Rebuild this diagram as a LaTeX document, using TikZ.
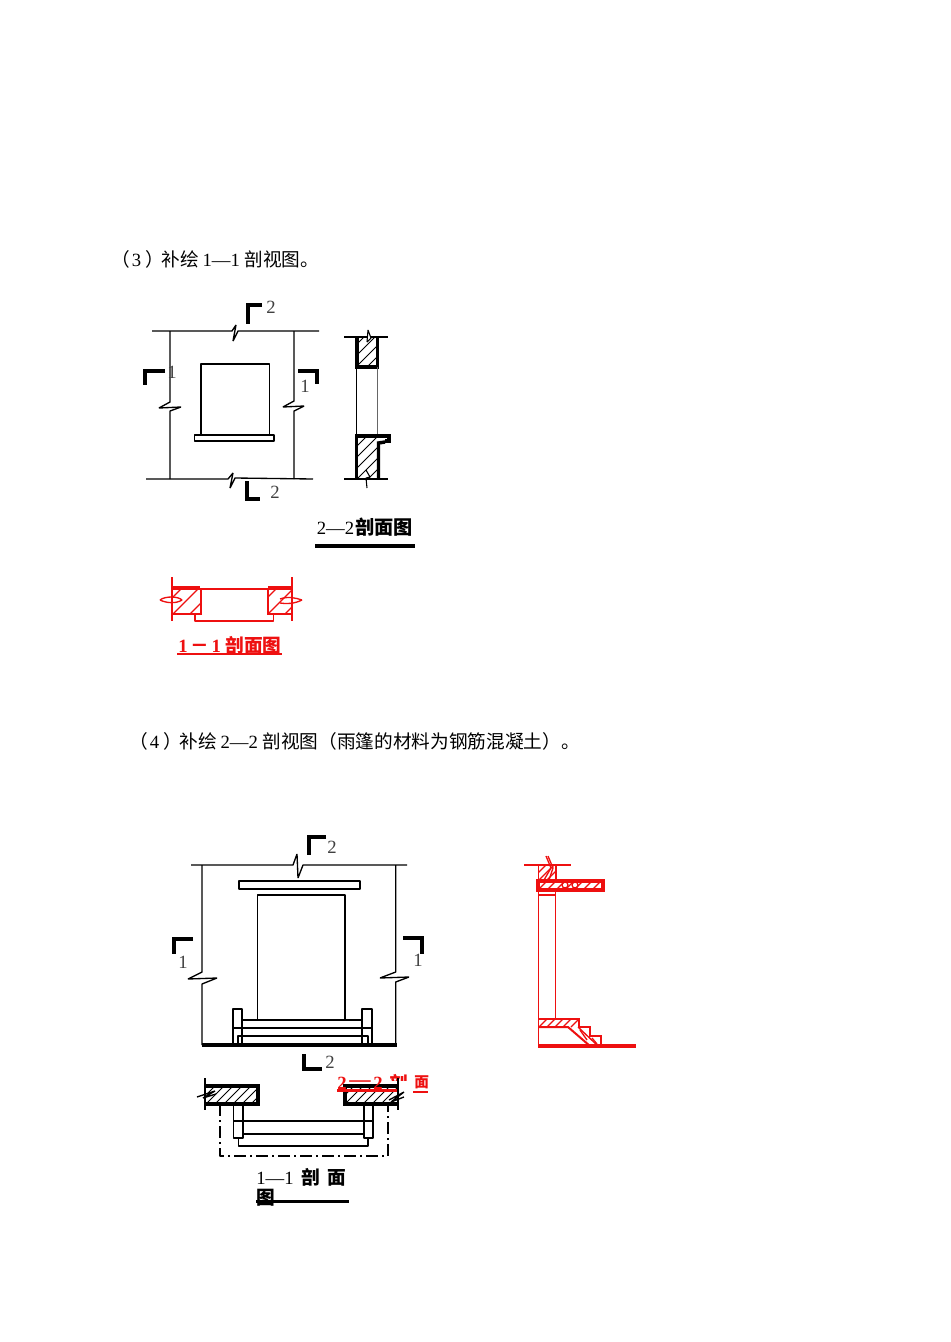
\documentclass[tikz,border=0pt]{standalone}
\usepackage{fontspec}
\setmainfont{Liberation Serif}
\newfontfamily\cjk{Noto Sans CJK SC}
\definecolor{redline}{RGB}{238,16,16}
\newcommand{\hatchbox}[7][0.7pt]{% width; x1 y1 x2 y2 colour spacing
  \begin{scope}
    \clip (#2,#3) rectangle (#4,#5);
    \foreach \k in {-20,...,20}
      \draw[#6,line width=#1] ({#2+\k*#7},#5) -- ++(80,-80);
  \end{scope}}
\tikzset{
  thin line/.style={line width=0.8pt,black,line join=bevel},
  mid line/.style={line width=1.0pt,black,line join=bevel},
  heavy line/.style={line width=2.6pt,black,line join=miter},
  section mark/.style={line width=2.8pt,black,line cap=butt,line join=miter},
  red thin/.style={line width=1.0pt,redline,line join=bevel},
  red wall/.style={line width=1.15pt,redline,line join=miter},
  red mid/.style={line width=1.5pt,redline,line join=miter},
  red thick/.style={line width=2.6pt,redline,line join=miter},
  body/.style={inner sep=0pt,font=\fontsize{14}{16}\selectfont,anchor=west},
  num/.style={inner sep=0pt,font=\fontsize{14}{16}\selectfont,text=black!75},
}
\begin{document}
\begin{tikzpicture}[x=0.75pt,y=-0.75pt]
\useasboundingbox (0,0) rectangle (950,1342);
\fill[white] (0,0) rectangle (950,1342);

% ---- texts
\node[body] (q3) at (111,259) {{\cjk （}\hspace{1.5pt}3\hspace{3.5pt}{\cjk ）}\hspace{-2pt}{\cjk 补绘}\hspace{-1pt} 1—1 {\cjk 剖视图。}};
\node[body] (q4) at (129,741) {{\cjk （}\hspace{1.5pt}4\hspace{3.5pt}{\cjk ）}\hspace{-2pt}{\cjk 补绘}\hspace{-1pt} 2—2 {\cjk 剖视图（雨篷的材料为钢筋混凝土）。}};

% ---- figure 3: elevation
\draw[mid line] (152,331) -- (232,331) -- (236,325) -- (233,341) -- (238,331) -- (319,331);
\draw[mid line] (146,479) -- (228,479) -- (233,473) -- (230,488) -- (235,478) -- (313,479);
\draw[mid line] (170,331) -- (170,402) -- (159,408) -- (181,407) -- (170,411) -- (170,479);
\draw[mid line] (294,331) -- (294,401) -- (283,407) -- (304,406) -- (294,411) -- (294,479);
\draw[mid line,line width=1.4pt] (200.7,435) -- (200.7,364) -- (269.5,364) -- (269.5,435);
\draw[mid line,line width=1.4pt] (194.5,435) rectangle (274,441);
\draw[section mark] (262,305) -- (248,305) -- (248,324);
\draw[section mark] (165,371) -- (145,371) -- (145,385);
\draw[section mark] (298,371) -- (317,371) -- (317,384);
\draw[section mark] (247,481) -- (247,499) -- (260,499);
\node[num] (m1) at (271,307) {2};
\node[num] (m2) at (172,372) {1};
\node[num] (m3) at (305,386) {1};
\node[num] (m4) at (275,492) {2};

% ---- figure 3: section 2-2
\hatchbox{357}{338}{377}{366}{black}{11}
\hatchbox{357}{437}{378}{479}{black}{11}
\draw[mid line] (344,337) -- (388,337);
\draw[mid line] (344,479) -- (388,479);
\draw[heavy line] (357,337) -- (357,367) -- (377.5,367) -- (377.5,337);
\draw[mid line] (356.5,367) -- (356.5,435);
\draw[line width=0.7pt,black!60] (377.5,367) -- (377.5,435);
\draw[heavy line] (356.5,479) -- (356.5,436) -- (389,436) -- (389,441) -- (385,441);
\draw[heavy line] (378.5,479) -- (378.5,443) -- (385,442);
\draw[thin line,fill=white] (368,330) -- (371,338) -- (367,342) -- cycle;
\draw[thin line] (366,470) -- (370,477) -- (366,478) -- (367,488);
\node[inner sep=0pt,anchor=west,font=\fontsize{14}{16}\selectfont] (c22) at (316.5,527) {2—2\hspace{1pt}{\cjk\bfseries\fontsize{14.4}{16}\selectfont 剖面图}};
\draw[section mark] (315,546) -- (415,546);

% ---- red 1-1
\hatchbox[1pt]{173}{589}{200}{614}{redline}{17}
\hatchbox[1pt]{268}{589}{292}{614}{redline}{17}
\draw[red mid] (172,577) -- (172,621);
\draw[red mid] (292,577) -- (292,621);
\draw[red thick] (172,588) -- (200,588);
\draw[red thick] (268,588) -- (292,588);
\draw[red mid] (200.5,588) -- (200.5,614) -- (172,614);
\draw[red mid] (268,588) -- (268,614) -- (292,614);
\draw[red thin] (200,589) -- (268,589);
\draw[red thin] (195,614) -- (195,621) -- (273.5,621) -- (273.5,614);
\draw[red thin] (160,600) .. controls (165,596) and (178,596) .. (182,600) .. controls (176,604) and (166,603) .. (160,600);
\draw[red thin] (280,599) .. controls (288,596) and (296,598) .. (302,600) .. controls (294,604) and (286,604) .. (280,603);
\node[inner sep=0pt,anchor=west,text=redline,font=\fontsize{14}{16}\selectfont\bfseries] (c11r) at (178,645) {1\hspace{2pt}{\cjk －}\hspace{2pt}1\hspace{3.5pt}{\cjk 剖面图}};
\draw[red mid] (177,654) -- (282,654);

% ---- figure 4: elevation
\draw[mid line] (191,865) -- (293,865) -- (297,854) -- (298,878) -- (303,865) -- (407,865);
\draw[mid line] (202,865) -- (202,972) -- (188,979) -- (217,978) -- (202,984) -- (202,1045);
\draw[mid line] (395.7,865) -- (395.7,972) -- (380,978) -- (409,977) -- (395.7,982) -- (395.7,1045);
\draw[mid line,line width=1.5pt] (239,881) rectangle (360,889);
\draw[mid line,line width=1.4pt] (257.5,1020) -- (257.5,895) -- (345,895) -- (345,1020);
\draw[mid line,line width=1.4pt] (232.8,1045) -- (232.8,1009) -- (242,1009) -- (242,1045);
\draw[mid line,line width=1.4pt] (362,1045) -- (362,1009) -- (372,1009) -- (372,1045);
\draw[mid line,line width=1.4pt] (242,1020) -- (362,1020);
\draw[mid line,line width=1.4pt] (232.8,1028) -- (372,1028);
\draw[mid line,line width=1.4pt] (237.8,1045) -- (237.8,1036) -- (368,1036) -- (368,1045);
\draw[section mark] (202,1045) -- (397,1045);
\draw[section mark] (326,837) -- (309,837) -- (309,855);
\draw[section mark] (193,939) -- (174,939) -- (174,954);
\draw[section mark] (403,938) -- (422,938) -- (422,954);
\draw[section mark] (304,1054) -- (304,1069) -- (322,1069);
\node[num] (n1) at (332,847) {2};
\node[num] (n2) at (183,962) {1};
\node[num] (n3) at (418,960) {1};
\node[num] (n4) at (330,1062) {2};

% ---- figure 4: section 1-1 (black) with the red title across it
\node[inner sep=0pt,anchor=west,text=redline,font=\fontsize{14}{16}\selectfont\bfseries] (c22rb) at (389,1083) {\cjk 剖};
\fill[white] (388,1081) rectangle (411,1096);
\hatchbox{207}{1088}{258}{1103}{black}{9}
\hatchbox{346}{1088}{397}{1103}{black}{9}
\draw[heavy line] (206,1086) -- (258,1086) -- (258,1104) -- (206,1104);
\draw[heavy line] (398,1086) -- (345,1086) -- (345,1104) -- (398,1104);
\node[inner sep=0pt,anchor=west,text=redline,font=\fontsize{14}{16}\selectfont\bfseries] (c22ra) at (337,1083) {2\hspace{2pt}\raisebox{2pt}{\fontsize{16}{16}\selectfont —}\hspace{2pt}2};
\node[inner sep=0pt,anchor=west,text=redline,font=\fontsize{11}{12}\selectfont\bfseries] (c22rc) at (414,1082.5) {\cjk 面};
\draw[red mid,line width=2pt] (337,1090.5) -- (398,1090.5);
\draw[red mid] (413,1091.5) -- (428,1091.5);
\draw[mid line] (205,1078) -- (205,1110);
\draw[mid line] (398,1078) -- (398,1110);
\draw[mid line] (197,1097) -- (215,1091) -- (203,1098) -- (216,1094);
\draw[mid line] (389,1100) -- (404,1092) -- (391,1102) -- (404,1097);
\draw[mid line,line width=1.4pt] (233.5,1104) -- (233.5,1138) -- (243,1138) -- (243,1104);
\draw[mid line,line width=1.4pt] (364,1104) -- (364,1138) -- (373,1138) -- (373,1104);
\draw[mid line,line width=1.6pt] (233.5,1121) -- (373,1121);
\draw[mid line,line width=1.4pt] (243,1134) -- (364,1134);
\draw[mid line,line width=1.4pt] (238.5,1138) -- (238.5,1146) -- (368,1146) -- (368,1138);
\draw[mid line,line width=1.3pt,dash pattern=on 9pt off 3pt on 1.5pt off 3pt] (220,1104) -- (220,1156) -- (388,1156) -- (388,1104);
\node[inner sep=0pt,anchor=west,font=\fontsize{14}{16}\selectfont] (c11a) at (256,1177) {1—1\hspace{6pt}{\cjk\bfseries 剖\hspace{5.5pt}面}};
\node[inner sep=0pt,anchor=west,font=\fontsize{14}{16}\selectfont\bfseries] (c11b) at (256,1198) {\cjk 图};
\draw[section mark] (256,1201.5) -- (349,1201.5);

% ---- figure 4: red section 2-2
\hatchbox[1pt]{539}{866}{556}{880}{redline}{8}
\hatchbox[1pt]{539}{882}{603}{889}{redline}{9}
\draw[red mid] (524,865) -- (571,865);
\draw[red wall] (538.5,865) -- (538.5,1046);
\draw[red mid] (555.5,865) -- (555.5,880);
\draw[red thin] (546,856) -- (551,868) -- (544,880);
\draw[red thin] (548,856) -- (553,868) -- (549,880);
\draw[red thick] (538,881) -- (603,881) -- (603,890) -- (538,890) -- cycle;
\draw[red wall] (555.5,890) -- (555.5,1019);
\draw[red mid] (538.5,895) -- (555.5,895);
\draw[red thin] (565,885) circle (3);
\draw[red thin] (575,885) circle (3);
\hatchbox[1pt]{539}{1020}{578}{1027}{redline}{8}
\draw[red mid] (538,1019) -- (579,1019) -- (579,1027) -- (590,1027) -- (590,1036) -- (601,1036) -- (601,1046);
\draw[red mid] (538,1027) -- (568,1027) -- (590,1046);
\draw[red thin] (578,1027) -- (598,1046);
\draw[red thin] (580,1030) -- (587,1040);
\draw[red thin] (592,1038) -- (597,1044);
\draw[red thick] (538,1046) -- (636,1046);
\end{tikzpicture}
\end{document}
